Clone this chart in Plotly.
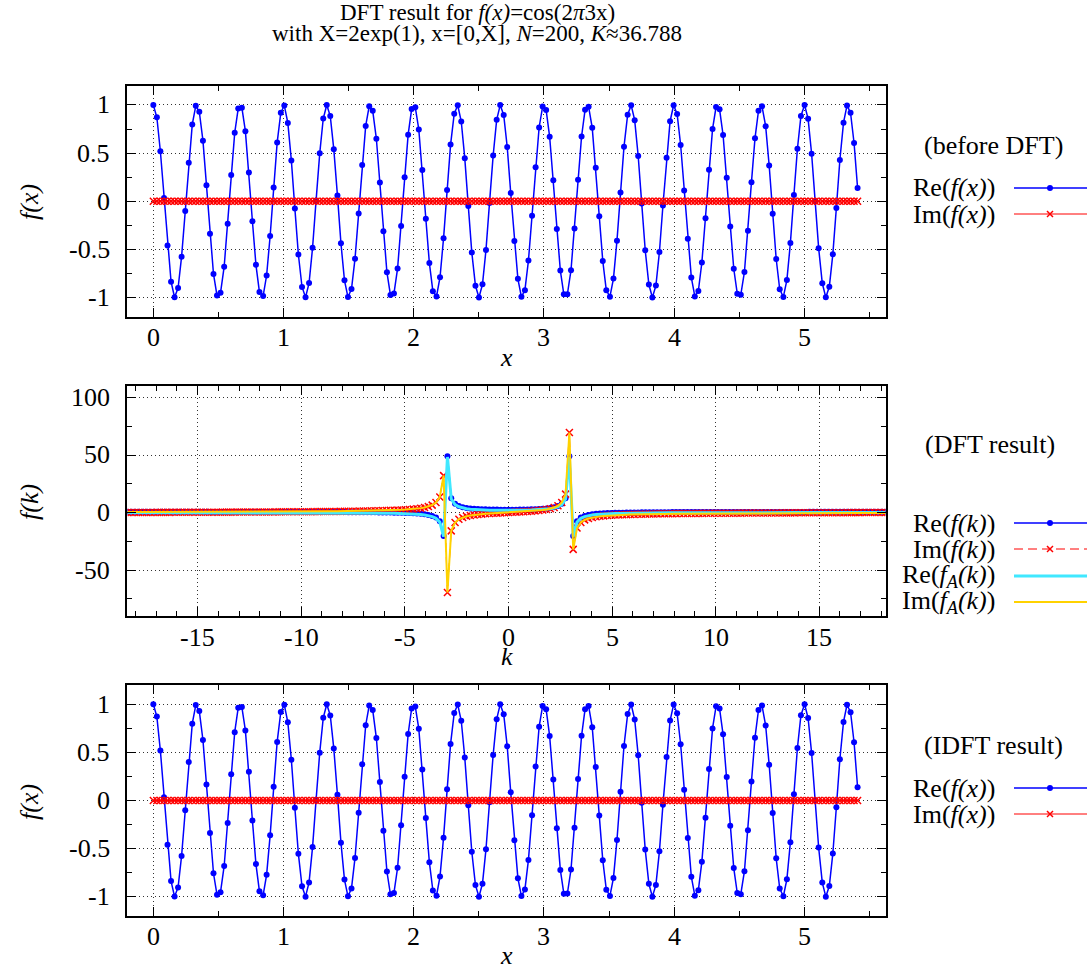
import plotly.graph_objects as go

# ---------------- data ----------------
X_SAMPLES = [
    0.000, 0.027, 0.054, 0.082, 0.109, 0.136, 0.163, 0.190, 0.217, 0.245,
    0.272, 0.299, 0.326, 0.353, 0.381, 0.408, 0.435, 0.462, 0.489, 0.516,
    0.544, 0.571, 0.598, 0.625, 0.652, 0.680, 0.707, 0.734, 0.761, 0.788,
    0.815, 0.843, 0.870, 0.897, 0.924, 0.951, 0.979, 1.006, 1.033, 1.060,
    1.087, 1.114, 1.142, 1.169, 1.196, 1.223, 1.250, 1.278, 1.305, 1.332,
    1.359, 1.386, 1.414, 1.441, 1.468, 1.495, 1.522, 1.549, 1.577, 1.604,
    1.631, 1.658, 1.685, 1.713, 1.740, 1.767, 1.794, 1.821, 1.848, 1.876,
    1.903, 1.930, 1.957, 1.984, 2.012, 2.039, 2.066, 2.093, 2.120, 2.147,
    2.175, 2.202, 2.229, 2.256, 2.283, 2.311, 2.338, 2.365, 2.392, 2.419,
    2.446, 2.474, 2.501, 2.528, 2.555, 2.582, 2.610, 2.637, 2.664, 2.691,
    2.718, 2.745, 2.773, 2.800, 2.827, 2.854, 2.881, 2.909, 2.936, 2.963,
    2.990, 3.017, 3.044, 3.072, 3.099, 3.126, 3.153, 3.180, 3.208, 3.235,
    3.262, 3.289, 3.316, 3.343, 3.371, 3.398, 3.425, 3.452, 3.479, 3.507,
    3.534, 3.561, 3.588, 3.615, 3.643, 3.670, 3.697, 3.724, 3.751, 3.778,
    3.806, 3.833, 3.860, 3.887, 3.914, 3.942, 3.969, 3.996, 4.023, 4.050,
    4.077, 4.105, 4.132, 4.159, 4.186, 4.213, 4.241, 4.268, 4.295, 4.322,
    4.349, 4.376, 4.404, 4.431, 4.458, 4.485, 4.512, 4.540, 4.567, 4.594,
    4.621, 4.648, 4.675, 4.703, 4.730, 4.757, 4.784, 4.811, 4.839, 4.866,
    4.893, 4.920, 4.947, 4.974, 5.002, 5.029, 5.056, 5.083, 5.110, 5.138,
    5.165, 5.192, 5.219, 5.246, 5.273, 5.301, 5.328, 5.355, 5.382, 5.409,
]

BEFORE_RE = [
    1.000, 0.872, 0.519, 0.034, -0.461, -0.837, -0.998, -0.903, -0.576, -0.101,
    0.400, 0.798, 0.991, 0.929, 0.629, 0.167, -0.337, -0.756, -0.980, -0.952,
    -0.680, -0.233, 0.273, 0.710, 0.964, 0.971, 0.728, 0.298, -0.208, -0.661,
    -0.944, -0.985, -0.772, -0.362, 0.142, 0.609, 0.920, 0.994, 0.813, 0.424,
    -0.075, -0.554, -0.891, -0.999, -0.851, -0.484, 0.008, 0.497, 0.859, 1.000,
    0.884, 0.541, 0.060, -0.438, -0.822, -0.996, -0.913, -0.597, -0.127, 0.376,
    0.782, 0.987, 0.939, 0.649, 0.193, -0.313, -0.738, -0.974, -0.960, -0.699,
    -0.258, 0.248, 0.691, 0.957, 0.976, 0.745, 0.323, -0.183, -0.641, -0.935,
    -0.989, -0.789, -0.386, 0.116, 0.588, 0.909, 0.997, 0.828, 0.447, -0.049,
    -0.532, -0.879, -1.000, -0.864, -0.506, -0.018, 0.474, 0.845, 0.999, 0.896,
    0.563, 0.085, -0.414, -0.807, -0.993, -0.924, -0.617, -0.152, 0.352, 0.766,
    0.983, 0.947, 0.669, 0.218, -0.288, -0.721, -0.968, -0.967, -0.717, -0.283,
    0.223, 0.672, 0.949, 0.982, 0.762, 0.347, -0.157, -0.621, -0.926, -0.992,
    -0.804, -0.410, 0.090, 0.567, 0.898, 0.998, 0.842, 0.470, -0.023, -0.510,
    -0.866, -1.000, -0.877, -0.528, -0.044, 0.451, 0.831, 0.997, 0.907, 0.584,
    0.111, -0.390, -0.792, -0.989, -0.933, -0.637, -0.178, 0.328, 0.749, 0.978,
    0.955, 0.688, 0.244, -0.263, -0.702, -0.961, -0.973, -0.735, -0.308, 0.198,
    0.653, 0.940, 0.986, 0.779, 0.371, -0.131, -0.601, -0.915, -0.995, -0.819,
    -0.433, 0.064, 0.545, 0.886, 1.000, 0.856, 0.493, 0.003, -0.488, -0.853,
    -0.999, -0.889, -0.550, -0.070, 0.428, 0.816, 0.995, 0.918, 0.605, 0.137,
]

BEFORE_IM = [
    0, 0, 0, 0, 0, 0, 0, 0, 0, 0, 0, 0, 0, 0, 0, 0, 0, 0, 0, 0,
    0, 0, 0, 0, 0, 0, 0, 0, 0, 0, 0, 0, 0, 0, 0, 0, 0, 0, 0, 0,
    0, 0, 0, 0, 0, 0, 0, 0, 0, 0, 0, 0, 0, 0, 0, 0, 0, 0, 0, 0,
    0, 0, 0, 0, 0, 0, 0, 0, 0, 0, 0, 0, 0, 0, 0, 0, 0, 0, 0, 0,
    0, 0, 0, 0, 0, 0, 0, 0, 0, 0, 0, 0, 0, 0, 0, 0, 0, 0, 0, 0,
    0, 0, 0, 0, 0, 0, 0, 0, 0, 0, 0, 0, 0, 0, 0, 0, 0, 0, 0, 0,
    0, 0, 0, 0, 0, 0, 0, 0, 0, 0, 0, 0, 0, 0, 0, 0, 0, 0, 0, 0,
    0, 0, 0, 0, 0, 0, 0, 0, 0, 0, 0, 0, 0, 0, 0, 0, 0, 0, 0, 0,
    0, 0, 0, 0, 0, 0, 0, 0, 0, 0, 0, 0, 0, 0, 0, 0, 0, 0, 0, 0,
    0, 0, 0, 0, 0, 0, 0, 0, 0, 0, 0, 0, 0, 0, 0, 0, 0, 0, 0, 0,
]

# IDFT result: same samples as the original signal
IDFT_RE = BEFORE_RE
IDFT_IM = BEFORE_IM

K_VALUES = [
    -18.394, -18.210, -18.026, -17.842, -17.658, -17.474, -17.290, -17.106, -16.922, -16.738,
    -16.555, -16.371, -16.187, -16.003, -15.819, -15.635, -15.451, -15.267, -15.083, -14.899,
    -14.715, -14.531, -14.347, -14.163, -13.979, -13.795, -13.611, -13.427, -13.244, -13.060,
    -12.876, -12.692, -12.508, -12.324, -12.140, -11.956, -11.772, -11.588, -11.404, -11.220,
    -11.036, -10.852, -10.669, -10.485, -10.301, -10.117, -9.933, -9.749, -9.565, -9.381,
    -9.197, -9.013, -8.829, -8.645, -8.461, -8.277, -8.093, -7.909, -7.725, -7.541,
    -7.358, -7.174, -6.990, -6.806, -6.622, -6.438, -6.254, -6.070, -5.886, -5.702,
    -5.518, -5.334, -5.150, -4.966, -4.782, -4.598, -4.415, -4.231, -4.047, -3.863,
    -3.679, -3.495, -3.311, -3.127, -2.943, -2.759, -2.575, -2.391, -2.207, -2.023,
    -1.839, -1.655, -1.472, -1.288, -1.104, -0.920, -0.736, -0.552, -0.368, -0.184,
    0.000, 0.184, 0.368, 0.552, 0.736, 0.920, 1.104, 1.288, 1.472, 1.655,
    1.839, 2.023, 2.207, 2.391, 2.575, 2.759, 2.943, 3.127, 3.311, 3.495,
    3.679, 3.863, 4.047, 4.231, 4.415, 4.598, 4.782, 4.966, 5.150, 5.334,
    5.518, 5.702, 5.886, 6.070, 6.254, 6.438, 6.622, 6.806, 6.990, 7.174,
    7.358, 7.541, 7.725, 7.909, 8.093, 8.277, 8.461, 8.645, 8.829, 9.013,
    9.197, 9.381, 9.565, 9.749, 9.933, 10.117, 10.301, 10.485, 10.669, 10.852,
    11.036, 11.220, 11.404, 11.588, 11.772, 11.956, 12.140, 12.324, 12.508, 12.692,
    12.876, 13.060, 13.244, 13.427, 13.611, 13.795, 13.979, 14.163, 14.347, 14.531,
    14.715, 14.899, 15.083, 15.267, 15.451, 15.635, 15.819, 16.003, 16.187, 16.371,
    16.555, 16.738, 16.922, 17.106, 17.290, 17.474, 17.658, 17.842, 18.026, 18.210,
]

RE_DFT = [
    0.56, 0.56, 0.56, 0.56, 0.56, 0.56, 0.56, 0.56, 0.56, 0.56,
    0.56, 0.56, 0.56, 0.56, 0.56, 0.55, 0.55, 0.55, 0.55, 0.55,
    0.55, 0.55, 0.54, 0.54, 0.54, 0.54, 0.54, 0.53, 0.53, 0.53,
    0.53, 0.52, 0.52, 0.52, 0.51, 0.51, 0.51, 0.50, 0.50, 0.49,
    0.49, 0.49, 0.48, 0.47, 0.47, 0.46, 0.45, 0.45, 0.44, 0.43,
    0.42, 0.41, 0.40, 0.39, 0.38, 0.36, 0.35, 0.33, 0.32, 0.30,
    0.28, 0.26, 0.23, 0.20, 0.17, 0.14, 0.10, 0.05, 0.00, -0.05,
    -0.12, -0.20, -0.29, -0.40, -0.54, -0.70, -0.92, -1.19, -1.57, -2.12,
    -2.96, -4.44, -7.69, -20.37, 48.92, 12.42, 7.54, 5.62, 4.60, 3.97,
    3.55, 3.25, 3.03, 2.87, 2.74, 2.65, 2.58, 2.52, 2.49, 2.47,
    2.46, 2.47, 2.49, 2.52, 2.58, 2.65, 2.74, 2.87, 3.03, 3.25,
    3.55, 3.97, 4.60, 5.62, 7.54, 12.42, 48.92, -20.37, -7.69, -4.44,
    -2.96, -2.12, -1.57, -1.19, -0.92, -0.70, -0.54, -0.40, -0.29, -0.20,
    -0.12, -0.05, 0.00, 0.05, 0.10, 0.14, 0.17, 0.20, 0.23, 0.26,
    0.28, 0.30, 0.32, 0.33, 0.35, 0.36, 0.38, 0.39, 0.40, 0.41,
    0.42, 0.43, 0.44, 0.45, 0.45, 0.46, 0.47, 0.47, 0.48, 0.49,
    0.49, 0.49, 0.50, 0.50, 0.51, 0.51, 0.51, 0.52, 0.52, 0.52,
    0.53, 0.53, 0.53, 0.53, 0.54, 0.54, 0.54, 0.54, 0.54, 0.55,
    0.55, 0.55, 0.55, 0.55, 0.55, 0.55, 0.56, 0.56, 0.56, 0.56,
    0.56, 0.56, 0.56, 0.56, 0.56, 0.56, 0.56, 0.56, 0.56, 0.56,
]

IM_DFT = [
    0.00, 0.01, 0.02, 0.03, 0.05, 0.06, 0.07, 0.08, 0.09, 0.10,
    0.12, 0.13, 0.14, 0.15, 0.16, 0.18, 0.19, 0.20, 0.21, 0.23,
    0.24, 0.25, 0.27, 0.28, 0.29, 0.31, 0.32, 0.33, 0.35, 0.36,
    0.38, 0.39, 0.41, 0.43, 0.44, 0.46, 0.48, 0.49, 0.51, 0.53,
    0.55, 0.57, 0.59, 0.61, 0.63, 0.66, 0.68, 0.70, 0.73, 0.76,
    0.78, 0.81, 0.84, 0.87, 0.91, 0.94, 0.98, 1.02, 1.06, 1.11,
    1.15, 1.21, 1.26, 1.32, 1.39, 1.46, 1.54, 1.62, 1.72, 1.83,
    1.95, 2.09, 2.25, 2.44, 2.66, 2.94, 3.28, 3.72, 4.31, 5.14,
    6.42, 8.63, 13.43, 32.09, -69.60, -15.96, -8.75, -5.88, -4.32, -3.34,
    -2.66, -2.15, -1.75, -1.43, -1.16, -0.92, -0.71, -0.52, -0.34, -0.17,
    0.00, 0.17, 0.34, 0.52, 0.71, 0.92, 1.16, 1.43, 1.75, 2.15,
    2.66, 3.34, 4.32, 5.88, 8.75, 15.96, 69.60, -32.09, -13.43, -8.63,
    -6.42, -5.14, -4.31, -3.72, -3.28, -2.94, -2.66, -2.44, -2.25, -2.09,
    -1.95, -1.83, -1.72, -1.62, -1.54, -1.46, -1.39, -1.32, -1.26, -1.21,
    -1.15, -1.11, -1.06, -1.02, -0.98, -0.94, -0.91, -0.87, -0.84, -0.81,
    -0.78, -0.76, -0.73, -0.70, -0.68, -0.66, -0.63, -0.61, -0.59, -0.57,
    -0.55, -0.53, -0.51, -0.49, -0.48, -0.46, -0.44, -0.43, -0.41, -0.39,
    -0.38, -0.36, -0.35, -0.33, -0.32, -0.31, -0.29, -0.28, -0.27, -0.25,
    -0.24, -0.23, -0.21, -0.20, -0.19, -0.18, -0.16, -0.15, -0.14, -0.13,
    -0.12, -0.10, -0.09, -0.08, -0.07, -0.06, -0.05, -0.03, -0.02, -0.01,
]

RE_ANALYTIC = [
    -0.05, -0.05, -0.05, -0.05, -0.05, -0.06, -0.06, -0.06, -0.06, -0.06,
    -0.06, -0.06, -0.06, -0.07, -0.07, -0.07, -0.07, -0.07, -0.07, -0.08,
    -0.08, -0.08, -0.08, -0.09, -0.09, -0.09, -0.09, -0.10, -0.10, -0.10,
    -0.10, -0.11, -0.11, -0.11, -0.12, -0.12, -0.13, -0.13, -0.14, -0.14,
    -0.14, -0.15, -0.16, -0.16, -0.17, -0.18, -0.18, -0.19, -0.20, -0.21,
    -0.22, -0.23, -0.24, -0.25, -0.26, -0.27, -0.29, -0.31, -0.32, -0.34,
    -0.36, -0.38, -0.41, -0.44, -0.47, -0.50, -0.54, -0.59, -0.64, -0.70,
    -0.76, -0.84, -0.93, -1.04, -1.18, -1.35, -1.56, -1.84, -2.22, -2.76,
    -3.61, -5.09, -8.33, -21.01, 48.28, 11.78, 6.90, 4.98, 3.96, 3.33,
    2.91, 2.61, 2.39, 2.23, 2.10, 2.00, 1.93, 1.88, 1.84, 1.82,
    1.82, 1.82, 1.84, 1.88, 1.93, 2.00, 2.10, 2.23, 2.39, 2.61,
    2.91, 3.33, 3.96, 4.98, 6.90, 11.78, 48.28, -21.01, -8.33, -5.09,
    -3.61, -2.76, -2.22, -1.84, -1.56, -1.35, -1.18, -1.04, -0.93, -0.84,
    -0.76, -0.70, -0.64, -0.59, -0.54, -0.50, -0.47, -0.44, -0.41, -0.38,
    -0.36, -0.34, -0.32, -0.31, -0.29, -0.27, -0.26, -0.25, -0.24, -0.23,
    -0.22, -0.21, -0.20, -0.19, -0.18, -0.18, -0.17, -0.16, -0.16, -0.15,
    -0.14, -0.14, -0.14, -0.13, -0.13, -0.12, -0.12, -0.11, -0.11, -0.11,
    -0.10, -0.10, -0.10, -0.10, -0.09, -0.09, -0.09, -0.09, -0.08, -0.08,
    -0.08, -0.08, -0.07, -0.07, -0.07, -0.07, -0.07, -0.07, -0.06, -0.06,
    -0.06, -0.06, -0.06, -0.06, -0.06, -0.06, -0.05, -0.05, -0.05, -0.05,
]

IM_ANALYTIC = [
    0.45, 0.45, 0.46, 0.46, 0.47, 0.47, 0.48, 0.48, 0.49, 0.49,
    0.50, 0.51, 0.51, 0.52, 0.52, 0.53, 0.54, 0.55, 0.55, 0.56,
    0.57, 0.58, 0.58, 0.59, 0.60, 0.61, 0.62, 0.63, 0.64, 0.65,
    0.66, 0.67, 0.68, 0.69, 0.70, 0.71, 0.73, 0.74, 0.75, 0.77,
    0.78, 0.80, 0.81, 0.83, 0.85, 0.87, 0.89, 0.91, 0.93, 0.95,
    0.97, 1.00, 1.02, 1.05, 1.08, 1.11, 1.15, 1.18, 1.22, 1.26,
    1.30, 1.35, 1.40, 1.46, 1.52, 1.59, 1.66, 1.74, 1.84, 1.94,
    2.06, 2.19, 2.35, 2.54, 2.76, 3.03, 3.37, 3.80, 4.39, 5.22,
    6.49, 8.70, 13.50, 32.15, -69.55, -15.91, -8.70, -5.83, -4.28, -3.30,
    -2.62, -2.12, -1.72, -1.40, -1.13, -0.90, -0.70, -0.51, -0.33, -0.16,
    0.00, 0.16, 0.33, 0.51, 0.70, 0.90, 1.13, 1.40, 1.72, 2.12,
    2.62, 3.30, 4.28, 5.83, 8.70, 15.91, 69.55, -32.15, -13.50, -8.70,
    -6.49, -5.22, -4.39, -3.80, -3.37, -3.03, -2.76, -2.54, -2.35, -2.19,
    -2.06, -1.94, -1.84, -1.74, -1.66, -1.59, -1.52, -1.46, -1.40, -1.35,
    -1.30, -1.26, -1.22, -1.18, -1.15, -1.11, -1.08, -1.05, -1.02, -1.00,
    -0.97, -0.95, -0.93, -0.91, -0.89, -0.87, -0.85, -0.83, -0.81, -0.80,
    -0.78, -0.77, -0.75, -0.74, -0.73, -0.71, -0.70, -0.69, -0.68, -0.67,
    -0.66, -0.65, -0.64, -0.63, -0.62, -0.61, -0.60, -0.59, -0.58, -0.58,
    -0.57, -0.56, -0.55, -0.55, -0.54, -0.53, -0.52, -0.52, -0.51, -0.51,
    -0.50, -0.49, -0.49, -0.48, -0.48, -0.47, -0.47, -0.46, -0.46, -0.45,
]

X_TICKS = [0, 1, 2, 3, 4, 5]
X_TICKTEXT = ["0", "1", "2", "3", "4", "5"]
FX_TICKS = [-1, -0.5, 0, 0.5, 1]
FX_TICKTEXT = ["-1", "-0.5", "0", "0.5", "1"]
K_TICKS = [-15, -10, -5, 0, 5, 10, 15]
K_TICKTEXT = ["-15", "-10", "-5", "0", "5", "10", "15"]
FK_TICKS = [-50, 0, 50, 100]
FK_TICKTEXT = ["-50", "0", "50", "100"]

TITLE_1 = "DFT result for <i>f(x)</i>=cos(2<i>π</i>3x)"
TITLE_2 = "with X=2exp(1), x=[0,X], <i>N</i>=200, <i>K</i>≈36.788"

# ---------------- style / layout ----------------
W, H = 1090, 970
FONT = "Liberation Serif"
TICK_SIZE = 26
LEG_SIZE = 26
TITLE_SIZE = 23
BLUE = "#0000ff"
RED = "#ff0000"
CYAN = "#40e8ff"
GOLD = "#ffd200"

PLOT_L, PLOT_R = 127.3, 885.7
PANELS = [(85.7, 316.7), (386.0, 616.0), (685.0, 916.0)]
XLABEL_Y = [337, 637, 936]   # centre of the x tick labels (px from top)
YLABEL_RIGHT = 112           # right edge of the y tick labels (px)
TITLE_X = 477


def px(x):
    return x / W


def py(y):
    return 1 - y / H


XDOM = [px(PLOT_L), px(PLOT_R)]


def ydom(i):
    top, bot = PANELS[i]
    return [py(bot), py(top)]


COMMON = dict(
    showline=True, linecolor="black", linewidth=2, mirror="allticks",
    ticks="inside", ticklen=9, tickwidth=1, tickcolor="black",
    showgrid=True, gridcolor="#333333", griddash="1px,3px", gridwidth=1,
    zeroline=False, tickmode="array", showticklabels=False,
)


def minor(dt):
    return dict(dtick=dt, tick0=0, ticks="inside", ticklen=5, tickwidth=1,
                tickcolor="black", showgrid=False)


DOT = dict(symbol="circle", size=6, color=BLUE)
CROSS = dict(symbol="x-thin", size=7, color=RED, line=dict(color=RED, width=1.5))

fig = go.Figure()

# top panel
fig.add_trace(go.Scatter(x=X_SAMPLES, y=BEFORE_RE, mode="lines+markers",
                         line=dict(color=BLUE, width=1.5), marker=DOT,
                         xaxis="x", yaxis="y", showlegend=False))
fig.add_trace(go.Scatter(x=X_SAMPLES, y=BEFORE_IM, mode="lines+markers",
                         line=dict(color=RED, width=1), marker=CROSS,
                         xaxis="x", yaxis="y", showlegend=False))

# middle panel
fig.add_trace(go.Scatter(x=K_VALUES, y=RE_DFT, mode="lines+markers",
                         line=dict(color=BLUE, width=1.5), marker=DOT,
                         xaxis="x2", yaxis="y2", showlegend=False))
fig.add_trace(go.Scatter(x=K_VALUES, y=IM_DFT, mode="lines+markers",
                         line=dict(color=RED, width=1, dash="9px,5px"),
                         marker=CROSS,
                         xaxis="x2", yaxis="y2", showlegend=False))
fig.add_trace(go.Scatter(x=K_VALUES, y=RE_ANALYTIC, mode="lines",
                         line=dict(color=CYAN, width=3),
                         xaxis="x2", yaxis="y2", showlegend=False))
fig.add_trace(go.Scatter(x=K_VALUES, y=IM_ANALYTIC, mode="lines",
                         line=dict(color=GOLD, width=2),
                         xaxis="x2", yaxis="y2", showlegend=False))

# bottom panel
fig.add_trace(go.Scatter(x=X_SAMPLES, y=IDFT_RE, mode="lines+markers",
                         line=dict(color=BLUE, width=1.5), marker=DOT,
                         xaxis="x3", yaxis="y3", showlegend=False))
fig.add_trace(go.Scatter(x=X_SAMPLES, y=IDFT_IM, mode="lines+markers",
                         line=dict(color=RED, width=1), marker=CROSS,
                         xaxis="x3", yaxis="y3", showlegend=False))

fig.update_layout(
    template="none",
    width=W, height=H, margin=dict(l=0, r=0, t=0, b=0),
    paper_bgcolor="white", plot_bgcolor="white", showlegend=False,
    font=dict(family=FONT, color="black", size=TICK_SIZE),
    xaxis=dict(domain=XDOM, anchor="y", range=[-0.2, 5.625],
               tickvals=X_TICKS, minor=minor(0.5), **COMMON),
    yaxis=dict(domain=ydom(0), anchor="x", range=[-1.2, 1.2],
               tickvals=FX_TICKS, minor=minor(0.25), **COMMON),
    xaxis2=dict(domain=XDOM, anchor="y2", range=[-18.394, 18.21],
                tickvals=K_TICKS, minor=minor(1), **COMMON),
    yaxis2=dict(domain=ydom(1), anchor="x2", range=[-90, 110],
                tickvals=FK_TICKS, minor=minor(25), **COMMON),
    xaxis3=dict(domain=XDOM, anchor="y3", range=[-0.2, 5.625],
                tickvals=X_TICKS, minor=minor(0.5), **COMMON),
    yaxis3=dict(domain=ydom(2), anchor="x3", range=[-1.2, 1.2],
                tickvals=FX_TICKS, minor=minor(0.25), **COMMON),
)

ann = []
shapes = []


def text(x, y, s, size, xanchor="center", angle=0):
    ann.append(dict(x=px(x), y=py(y), xref="paper", yref="paper", text=s,
                    showarrow=False, xanchor=xanchor, yanchor="middle",
                    textangle=angle,
                    font=dict(family=FONT, size=size, color="black")))


# tick labels (serif, placed through the axes' own scales)
def xtick_labels(xref, vals, labels, ypix):
    for v, s in zip(vals, labels):
        ann.append(dict(x=v, xref=xref, y=py(ypix), yref="paper", text=s,
                        showarrow=False, xanchor="center", yanchor="middle",
                        font=dict(family=FONT, size=TICK_SIZE, color="black")))


def ytick_labels(yref, vals, labels):
    for v, s in zip(vals, labels):
        ann.append(dict(x=px(YLABEL_RIGHT), xref="paper", y=v, yref=yref, text=s,
                        showarrow=False, xanchor="right", yanchor="middle",
                        font=dict(family=FONT, size=TICK_SIZE, color="black")))


xtick_labels("x", X_TICKS, X_TICKTEXT, XLABEL_Y[0])
xtick_labels("x2", K_TICKS, K_TICKTEXT, XLABEL_Y[1])
xtick_labels("x3", X_TICKS, X_TICKTEXT, XLABEL_Y[2])
ytick_labels("y", FX_TICKS, FX_TICKTEXT)
ytick_labels("y2", FK_TICKS, FK_TICKTEXT)
ytick_labels("y3", FX_TICKS, FX_TICKTEXT)

# title
text(TITLE_X, 12.5, TITLE_1, TITLE_SIZE)
text(TITLE_X, 33.5, TITLE_2, TITLE_SIZE)

# axis titles
text(506.5, 357, "<i>x</i>", LEG_SIZE)
text(506.5, 656, "<i>k</i>", LEG_SIZE)
text(506.5, 955, "<i>x</i>", LEG_SIZE)
text(29, 202, "<i>f(x)</i>", LEG_SIZE, angle=-90)
text(29, 502, "<i>f(k)</i>", LEG_SIZE, angle=-90)
text(29, 802, "<i>f(x)</i>", LEG_SIZE, angle=-90)

# legends (gnuplot style: text at left, sample at right)
LX0, LX1, LXM, LTX = 1014, 1087, 1050, 997


def leg_line(y, color, width=1.5, dash="solid"):
    shapes.append(dict(type="line", xref="paper", yref="paper",
                       x0=px(LX0), x1=px(LX1), y0=py(y), y1=py(y),
                       line=dict(color=color, width=width, dash=dash)))


def leg_dot(y, color):
    r = 3
    shapes.append(dict(type="circle", xref="paper", yref="paper",
                       x0=px(LXM - r), x1=px(LXM + r), y0=py(y + r), y1=py(y - r),
                       fillcolor=color, line=dict(width=0)))


def leg_cross(y, color):
    r = 3
    for a, b in ((-r, r), (r, -r)):
        shapes.append(dict(type="line", xref="paper", yref="paper",
                           x0=px(LXM - r), x1=px(LXM + r), y0=py(y + a), y1=py(y + b),
                           line=dict(color=color, width=1.5)))


def leg_re_im(ytitle, title, y1, y2, lab1, lab2):
    text(993, ytitle, title, LEG_SIZE)
    text(LTX, y1, lab1, LEG_SIZE, xanchor="right")
    leg_line(y1, BLUE)
    leg_dot(y1, BLUE)
    text(LTX, y2, lab2, LEG_SIZE, xanchor="right")
    leg_line(y2, RED, width=1)
    leg_cross(y2, RED)


leg_re_im(145, "(before DFT)", 188, 214,
          "Re(<i>f(x)</i>)", "Im(<i>f(x)</i>)")
leg_re_im(745, "(IDFT result)", 788, 814,
          "Re(<i>f(x)</i>)", "Im(<i>f(x)</i>)")

text(990, 445, "(DFT result)", LEG_SIZE)
ym = [523, 549, 576, 602]
text(LTX, ym[0], "Re(<i>f(k)</i>)", LEG_SIZE, xanchor="right")
leg_line(ym[0], BLUE)
leg_dot(ym[0], BLUE)
text(LTX, ym[1], "Im(<i>f(k)</i>)", LEG_SIZE, xanchor="right")
leg_line(ym[1], RED, width=1, dash="9px,5px")
leg_cross(ym[1], RED)
text(LTX, ym[2], "Re(<i>f<sub>A</sub>(k)</i>)", LEG_SIZE, xanchor="right")
leg_line(ym[2], CYAN, width=3)
text(LTX, ym[3], "Im(<i>f<sub>A</sub>(k)</i>)", LEG_SIZE, xanchor="right")
leg_line(ym[3], GOLD, width=2)

fig.update_layout(annotations=ann, shapes=shapes)

fig.write_html("out.html",
               config={"displayModeBar": False, "staticPlot": True},
               post_script="document.body.style.margin='0px';"
                           "document.documentElement.style.overflow='hidden';")
